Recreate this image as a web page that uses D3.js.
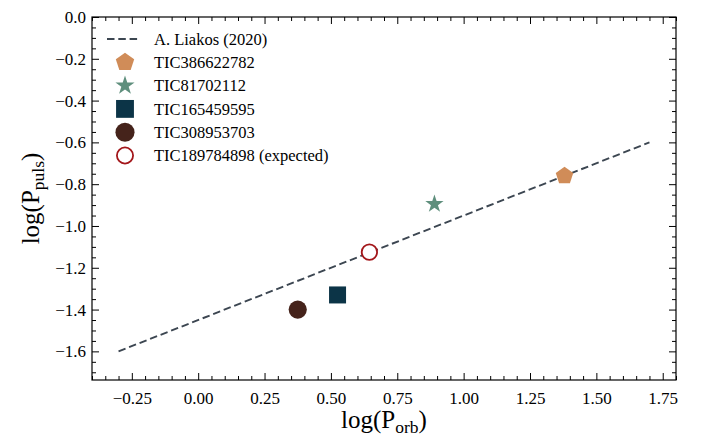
<!DOCTYPE html>
<html>
<head>
<meta charset="utf-8">
<script src="https://cdn.jsdelivr.net/npm/d3@7"></script>
<style>
  body { margin: 0; background: #fff; }
  svg { display: block; }
</style>
</head>
<body>
<div id="chart"></div>
<script>
// relation from A. Liakos (2020)
const fitX = [-0.3, 1.7];
const fitY = [-1.6, -0.6];

// stars (log Porb, log Ppuls)
const starNames = ["TIC386622782", "TIC81702112", "TIC165459595", "TIC308953703", "TIC189784898 (expected)"];
const logPorb = [1.38, 0.89, 0.525, 0.375, 0.645];
const logPpuls = [-0.76, -0.895, -1.33, -1.40, -1.125];
const markerKinds = ["pentagon", "star", "square", "circle", "open"];
const markerColors = ["#d08c58", "#5f8f7d", "#0c3447", "#45231b", "#a3161a"];

const xTicks = [-0.25, 0.0, 0.25, 0.5, 0.75, 1.0, 1.25, 1.5, 1.75];
const yTicks = [0.0, -0.2, -0.4, -0.6, -0.8, -1.0, -1.2, -1.4, -1.6];

const SERIF = '"Liberation Serif", "Times New Roman", "DejaVu Serif", serif';

const W = 702, H = 437;
const margin = {top: 17, right: 26, bottom: 57, left: 92};
const width = W - margin.left - margin.right,
    height = H - margin.top - margin.bottom;

const svg = d3.select("#chart")
    .append("svg")
    .attr("width", W)
    .attr("height", H)
    .style("font-family", SERIF);

const g = svg.append("g")
    .attr("transform", `translate(${margin.left}, ${margin.top})`);

const x = d3.scaleLinear().domain([-0.4, 1.8]).range([0, width]);
const y = d3.scaleLinear().domain([-1.737, 0.0]).range([height, 0]);

// minor tick values
const xMinor = d3.range(-0.4, 1.8001, 0.05).filter(v => !xTicks.some(t => Math.abs(t - v) < 1e-6));
const yMinor = d3.range(-1.7, 0.0001, 0.05).filter(v => !yTicks.some(t => Math.abs(t - v) < 1e-6));

function drawAxis(axis, transform, labels) {
    const a = g.append("g").attr("transform", transform).call(axis);
    a.attr("font-family", SERIF).attr("font-size", 17);
    a.select(".domain").remove();
    a.selectAll("line").attr("stroke", "#000").attr("stroke-width", 1);
    a.selectAll("text")
        .attr("fill", "#000")
        .style("font-family", SERIF)
        .style("font-size", "17px");
    if (!labels) a.selectAll("text").remove();
    return a;
}

// bottom / top / left / right axes, ticks pointing in
drawAxis(d3.axisBottom(x).tickValues(xTicks).tickFormat(d3.format(".2f")).tickSizeInner(-7).tickPadding(12),
    `translate(0, ${height})`, true);
drawAxis(d3.axisBottom(x).tickValues(xMinor).tickSizeInner(-4), `translate(0, ${height})`, false);
drawAxis(d3.axisTop(x).tickValues(xTicks).tickSizeInner(-7), "translate(0, 0)", false);
drawAxis(d3.axisTop(x).tickValues(xMinor).tickSizeInner(-4), "translate(0, 0)", false);
drawAxis(d3.axisLeft(y).tickValues(yTicks).tickFormat(d3.format(".1f")).tickSizeInner(-7).tickPadding(6),
    "translate(0, 0)", true);
drawAxis(d3.axisLeft(y).tickValues(yMinor).tickSizeInner(-4), "translate(0, 0)", false);
drawAxis(d3.axisRight(y).tickValues(yTicks).tickSizeInner(-7), `translate(${width}, 0)`, false);
drawAxis(d3.axisRight(y).tickValues(yMinor).tickSizeInner(-4), `translate(${width}, 0)`, false);

g.append("rect")
    .attr("width", width)
    .attr("height", height)
    .attr("fill", "none")
    .attr("stroke", "#000")
    .attr("stroke-width", 1.2);

// marker shapes
function polygon(n, r, inner) {
    const pts = [];
    const steps = inner ? n * 2 : n;
    for (let i = 0; i < steps; i++) {
        const ang = -Math.PI / 2 + i * 2 * Math.PI / steps;
        const rr = inner && i % 2 === 1 ? r * inner : r;
        pts.push([rr * Math.cos(ang), rr * Math.sin(ang)]);
    }
    return d3.line()(pts) + "Z";
}

function addMarker(sel, kind, color, k) {
    k = k || 1;
    if (kind === "pentagon") {
        sel.append("path").attr("d", polygon(5, 9.2 * k)).attr("fill", color);
    } else if (kind === "star") {
        sel.append("path").attr("d", polygon(5, 9.6 * k, 0.382)).attr("fill", color);
    } else if (kind === "square") {
        const s = 17 * k;
        sel.append("rect").attr("x", -s / 2).attr("y", -s / 2).attr("width", s).attr("height", s).attr("fill", color);
    } else if (kind === "circle") {
        sel.append("circle").attr("r", 9.1 * k).attr("fill", color);
    } else {
        sel.append("circle").attr("r", 7.7 * k).attr("fill", "#fff").attr("stroke", color).attr("stroke-width", 1.8);
    }
}

// fit line
g.append("path")
    .datum(fitX.map((d, i) => [d, fitY[i]]))
    .attr("d", d3.line().x(d => x(d[0])).y(d => y(d[1])))
    .attr("fill", "none")
    .attr("stroke", "#3c4651")
    .attr("stroke-width", 1.9)
    .attr("stroke-dasharray", "7.5,3.8");

// points
starNames.forEach((name, i) => {
    const m = g.append("g").attr("transform", `translate(${x(logPorb[i])}, ${y(logPpuls[i])})`);
    addMarker(m, markerKinds[i], markerColors[i]);
});

// legend
const legend = g.append("g").attr("transform", "translate(15, 22)");
const rowH = 23.3;
legend.append("line")
    .attr("x1", 0).attr("x2", 33).attr("y1", 0).attr("y2", 0)
    .attr("stroke", "#3c4651").attr("stroke-width", 1.9).attr("stroke-dasharray", "7.5,3.8");
legend.append("text")
    .attr("x", 47).attr("y", 0).attr("dy", "0.35em")
    .style("font-size", "16.5px").text("A. Liakos (2020)");
starNames.forEach((name, i) => {
    const row = legend.append("g").attr("transform", `translate(0, ${(i + 1) * rowH})`);
    addMarker(row.append("g").attr("transform", "translate(18, 0)"), markerKinds[i], markerColors[i], 1.05);
    row.append("text")
        .attr("x", 47).attr("y", 0).attr("dy", "0.35em")
        .style("font-size", "16.5px").text(name);
});

// axis labels
const xl = svg.append("text")
    .attr("x", margin.left + width / 2)
    .attr("y", 428)
    .attr("text-anchor", "middle")
    .style("font-size", "25px");
xl.append("tspan").text("log(P");
xl.append("tspan").style("font-size", "17.5px").attr("dy", 5).text("orb");
xl.append("tspan").attr("dy", -5).text(")");

const yl = svg.append("text")
    .attr("transform", `translate(39, ${margin.top + height / 2}) rotate(-90)`)
    .attr("text-anchor", "middle")
    .style("font-size", "25px");
yl.append("tspan").text("log(P");
yl.append("tspan").style("font-size", "17.5px").attr("dy", 5).text("puls");
yl.append("tspan").attr("dy", -5).text(")");
</script>
</body>
</html>
